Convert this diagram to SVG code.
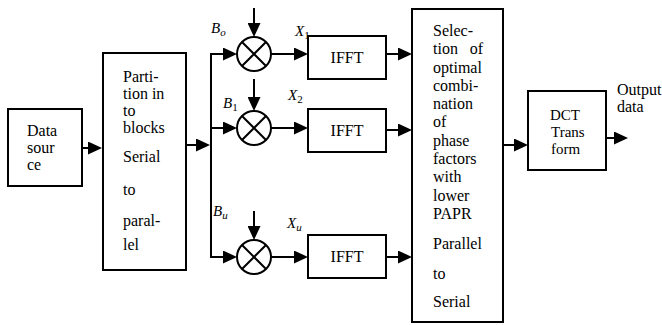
<svg xmlns="http://www.w3.org/2000/svg" width="662" height="325" viewBox="0 0 662 325" font-family="Liberation Serif, Times New Roman, serif">
<style>
.box{fill:#fff;stroke:#000;stroke-width:2}
.t{font-size:16px;fill:#000}
.s{font-size:15px}
.m{font-size:15px;font-style:italic;fill:#000}
.sub{font-size:11px}
.ln{fill:none;stroke:#000;stroke-width:2}
.circ{fill:#fff;stroke:#000;stroke-width:2}
</style>
<defs>
<marker id="ah" markerUnits="userSpaceOnUse" markerWidth="14" markerHeight="13" refX="10" refY="6.5" orient="auto" viewBox="0 0 14 13">
<path d="M0,0 L14,6.5 L0,13 z" fill="#000"/>
</marker>
</defs>

<g id="connectors">
<path class="ln" d="M82,148 H98" marker-end="url(#ah)"/>
<path class="ln" d="M186,145 H206" marker-end="url(#ah)"/>
<path class="ln" d="M211,54 V257"/>
<path class="ln" d="M210,54 H233" marker-end="url(#ah)"/>
<path class="ln" d="M210,128 H233" marker-end="url(#ah)"/>
<path class="ln" d="M210,257 H233" marker-end="url(#ah)"/>
<path class="ln" d="M254,8 V33" marker-end="url(#ah)"/>
<path class="ln" d="M254,79 V107" marker-end="url(#ah)"/>
<path class="ln" d="M254,211 V236" marker-end="url(#ah)"/>
<path class="ln" d="M271,54 H304" marker-end="url(#ah)"/>
<path class="ln" d="M271,128 H304" marker-end="url(#ah)"/>
<path class="ln" d="M271,257 H304" marker-end="url(#ah)"/>
<path class="ln" d="M386,54 H408" marker-end="url(#ah)"/>
<path class="ln" d="M386,130 H408" marker-end="url(#ah)"/>
<path class="ln" d="M386,257 H408" marker-end="url(#ah)"/>
<path class="ln" d="M503,145 H524" marker-end="url(#ah)"/>
<path class="ln" d="M606,138 H624" marker-end="url(#ah)"/>
</g>

<g id="data-source">
<rect class="box" x="8" y="109" width="74" height="77"/>
<text class="t" x="27" y="136">Data</text>
<text class="t" x="27" y="153">sour</text>
<text class="t" x="27" y="170">ce</text>
</g>

<g id="partition">
<rect class="box" x="103" y="53" width="83" height="217"/>
<text class="t" x="123" y="82">Parti-</text>
<text class="t" x="123" y="99">tion in</text>
<text class="t" x="123" y="116">to</text>
<text class="t" x="123" y="133">blocks</text>
<text class="t" x="123" y="162">Serial</text>
<text class="t" x="123" y="195">to</text>
<text class="t" x="123" y="226">paral-</text>
<text class="t" x="123" y="250">lel</text>
</g>

<g id="mult-0">
<circle class="circ" cx="254" cy="54" r="17"/>
<path class="ln" d="M242,42 L266,66 M266,42 L242,66"/>
</g>
<g id="mult-1">
<circle class="circ" cx="254" cy="128" r="17"/>
<path class="ln" d="M242,116 L266,140 M266,116 L242,140"/>
</g>
<g id="mult-u">
<circle class="circ" cx="254" cy="257" r="17"/>
<path class="ln" d="M242,245 L266,269 M266,245 L242,269"/>
</g>

<g id="labels">
<text class="m" x="211" y="33">B<tspan class="sub" dy="3">o</tspan></text>
<text class="m" x="223" y="108">B<tspan class="sub" dy="3" font-style="normal">1</tspan></text>
<text class="m" x="213" y="216">B<tspan class="sub" dy="3">u</tspan></text>
<text class="m" x="295" y="36">X<tspan class="sub" dy="3" font-style="normal">1</tspan></text>
<text class="m" x="288" y="100">X<tspan class="sub" dy="3" font-style="normal">2</tspan></text>
<text class="m" x="287" y="228">X<tspan class="sub" dy="3">u</tspan></text>
</g>

<g id="ifft-1">
<rect class="box" x="308" y="36" width="78" height="43"/>
<text class="t" x="347" y="63" text-anchor="middle">IFFT</text>
</g>
<g id="ifft-2">
<rect class="box" x="308" y="109" width="78" height="43"/>
<text class="t" x="347" y="136" text-anchor="middle">IFFT</text>
</g>
<g id="ifft-u">
<rect class="box" x="308" y="235" width="78" height="43"/>
<text class="t" x="347" y="262" text-anchor="middle">IFFT</text>
</g>

<g id="selection">
<rect class="box" x="412" y="9" width="91" height="313"/>
<text class="t" x="433" y="36">Selec-</text>
<text class="t" x="433" y="54">tion</text>
<text class="t" x="483" y="54" text-anchor="end">of</text>
<text class="t" x="433" y="73">optimal</text>
<text class="t" x="433" y="91">combi-</text>
<text class="t" x="433" y="109">nation</text>
<text class="t" x="433" y="127">of</text>
<text class="t" x="433" y="146">phase</text>
<text class="t" x="433" y="164">factors</text>
<text class="t" x="433" y="182">with</text>
<text class="t" x="433" y="201">lower</text>
<text class="t" x="433" y="219">PAPR</text>
<text class="t" x="433" y="249">Parallel</text>
<text class="t" x="433" y="279">to</text>
<text class="t" x="433" y="307">Serial</text>
</g>

<g id="dct">
<rect class="box" x="528" y="91" width="78" height="79"/>
<text class="t s" x="550" y="120">DCT</text>
<text class="t s" x="551" y="137">Trans</text>
<text class="t s" x="551" y="154">form</text>
</g>

<g id="output">
<text class="t" font-size="14" x="617" y="95">Output</text>
<text class="t" font-size="14" x="617" y="112">data</text>
</g>
</svg>
